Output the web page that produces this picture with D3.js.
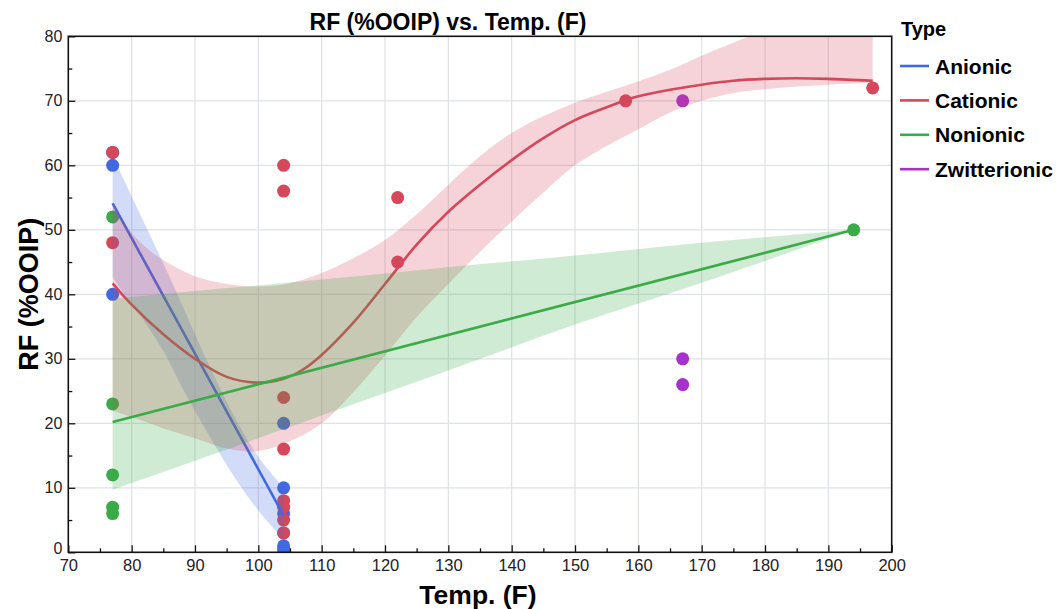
<!DOCTYPE html>
<html>
<head>
<meta charset="utf-8">
<script src="https://cdn.jsdelivr.net/npm/d3@7"></script>
<style>
    body { margin: 0; background: #fff; }
    svg { font-family: "Liberation Sans", Arial, Helvetica, sans-serif; }
    .tick text { fill: #222; }
    .legend-label { font-weight: bold; font-size: 21px; }
</style>
</head>
<body>
<svg id="chart" width="1056" height="609"></svg>
<script>
// series, in draw order
const seriesNames = ["Anionic", "Cationic", "Nonionic", "Zwitterionic"]
const seriesColors = ["#4169e1", "#d5475a", "#3aab47", "#a631cc"]

// measured points
const anionicTemp = [77, 77, 77, 104, 104, 104, 104, 104, 104, 104]
const anionicRF = [62, 60, 40, 20, 10, 6, 3, 1, 0.5, 0]
const cationicTemp = [77, 77, 104, 104, 104, 104, 104, 104, 104, 104, 122, 122, 158, 197]
const cationicRF = [62, 48, 60, 56, 24, 16, 8, 7, 5, 3, 55, 45, 70, 72]
const nonionicTemp = [77, 77, 77, 77, 77, 194]
const nonionicRF = [52, 23, 12, 7, 6, 50]
const zwitterionicTemp = [167, 167, 167]
const zwitterionicRF = [70, 30, 26]

// fitted trend lines
const anionicFitTemp = [77, 104]
const anionicFitRF = [54.1, 5.7]
const cationicFitTemp = [77, 80, 85, 90, 95, 100, 104, 107, 110, 115, 120, 125, 130, 135, 140, 145, 150, 155, 158, 160, 165, 170, 175, 180, 185, 190, 197]
const cationicFitRF = [41.7, 38.4, 33.8, 30.0, 27.2, 26.3, 26.9, 28.3, 30.6, 35.6, 41.6, 47.7, 52.8, 57.0, 60.8, 64.2, 67.0, 69.0, 70.1, 70.7, 71.7, 72.5, 73.1, 73.4, 73.5, 73.4, 73.1]
const nonionicFitTemp = [77, 194]
const nonionicFitRF = [20.2, 50]

// confidence bands
const anionicBandTemp = [77, 79, 82, 85, 88, 92, 96, 100, 104]
const anionicBandLow = [42.7, 39.8, 35.8, 31.2, 25.5, 18.5, 12.0, 6.5, 2.0]
const anionicBandHigh = [61.5, 57.3, 51.0, 44.8, 38.3, 29.5, 21.5, 14.8, 10.0]
const cationicBandTemp = [77, 79, 82, 85, 90, 95, 100, 105, 110, 115, 120, 125, 130, 135, 140, 145, 150, 155, 160, 165, 170, 175, 180, 185, 190, 197]
const cationicBandLow = [22.0, 21.3, 20.3, 19.2, 17.7, 16.1, 15.7, 17.2, 20.0, 24.8, 30.5, 36.5, 41.6, 46.6, 51.3, 55.8, 60.0, 63.0, 65.6, 68.2, 70.0, 71.2, 71.8, 72.2, 72.5, 72.8]
const cationicBandHigh = [54.3, 50.8, 47.5, 45.3, 42.8, 41.6, 41.2, 41.7, 43.3, 45.6, 48.4, 52.4, 57.0, 61.4, 65.0, 67.6, 69.7, 71.4, 73.0, 74.8, 77.0, 79.0, 80.9, 82.7, 84.5, 87.0]
const nonionicBandTemp = [77, 90, 110, 130, 150, 170, 194]
const nonionicBandLow = [9.7, 14.2, 21.2, 28.2, 35.3, 41.8, 50]
const nonionicBandHigh = [39.3, 40.5, 42.3, 44.2, 46.0, 48.0, 50]

// axes
const xMajorTicks = [70, 80, 90, 100, 110, 120, 130, 140, 150, 160, 170, 180, 190, 200]
const xMinorTicks = [75, 85, 95, 105, 115, 125, 135, 145, 155, 165, 175, 185, 195]
const yMajorTicks = [0, 10, 20, 30, 40, 50, 60, 70, 80]
const yMinorTicks = [5, 15, 25, 35, 45, 55, 65, 75]

const points = [
    [anionicTemp, anionicRF],
    [cationicTemp, cationicRF],
    [nonionicTemp, nonionicRF],
    [zwitterionicTemp, zwitterionicRF]
]
const fits = [
    [anionicFitTemp, anionicFitRF],
    [cationicFitTemp, cationicFitRF],
    [nonionicFitTemp, nonionicFitRF]
]
const bands = [
    [anionicBandTemp, anionicBandLow, anionicBandHigh],
    [cationicBandTemp, cationicBandLow, cationicBandHigh],
    [nonionicBandTemp, nonionicBandLow, nonionicBandHigh]
]

function render_chart()
{
    let svg = d3.select("#chart")
    let plot = {left: 68.3, right: 891.7, top: 36.3, bottom: 552.3}

    let x = d3.scaleLinear().domain([70, 200]).range([plot.left, plot.right])
    let y = d3.scaleLinear().domain([0, 80]).range([plot.bottom, plot.top])
    const smooth = d3.curveCatmullRom.alpha(0.5)

    svg.append("defs").append("clipPath")
        .attr("id", "plot-clip")
        .append("rect")
            .attr("x", plot.left)
            .attr("y", plot.top)
            .attr("width", plot.right - plot.left)
            .attr("height", plot.bottom - plot.top)

    // grid
    let grid = svg.append("g").attr("stroke", "#dfe2e6").attr("stroke-width", 1.2)
    grid.selectAll(".vgrid")
        .data(xMajorTicks.slice(1, -1))
        .enter()
        .append("line")
            .attr("x1", d => x(d)).attr("x2", d => x(d))
            .attr("y1", plot.top).attr("y2", plot.bottom)
    grid.selectAll(".hgrid")
        .data(yMajorTicks.slice(1, -1))
        .enter()
        .append("line")
            .attr("x1", plot.left).attr("x2", plot.right)
            .attr("y1", d => y(d)).attr("y2", d => y(d))

    let body = svg.append("g").attr("clip-path", "url(#plot-clip)")

    // all points first, then each series' band and trend line on top
    points.forEach(function (p, i) {
        let temps = p[0], rfs = p[1]
        body.append("g")
            .selectAll("circle")
            .data(d3.range(temps.length))
            .enter()
            .append("circle")
                .attr("cx", j => x(temps[j]))
                .attr("cy", j => y(rfs[j]))
                .attr("r", 6.5)
                .attr("fill", seriesColors[i])
    })

    bands.forEach(function (b, i) {
        let temps = b[0], lo = b[1], hi = b[2]
        let area = d3.area()
            .x(j => x(temps[j]))
            .y0(j => y(lo[j]))
            .y1(j => y(hi[j]))
            .curve(smooth)
        body.append("path")
            .attr("d", area(d3.range(temps.length)))
            .attr("fill", seriesColors[i])
            .attr("fill-opacity", 0.24)

        let ft = fits[i][0], fr = fits[i][1]
        let line = d3.line()
            .x(j => x(ft[j]))
            .y(j => y(fr[j]))
            .curve(smooth)
        body.append("path")
            .attr("d", line(d3.range(ft.length)))
            .attr("fill", "none")
            .attr("stroke", seriesColors[i])
            .attr("stroke-width", 2.6)
    })

    // axes, ticks point into the plot
    let xAxis = svg.append("g")
        .attr("transform", `translate(0,${plot.bottom})`)
        .call(d3.axisBottom(x).tickValues(xMajorTicks).tickSize(-7).tickPadding(7).tickFormat(d3.format("d")))
    xAxis.selectAll("text").style("font-size", "16.5px")
    svg.append("g")
        .attr("transform", `translate(0,${plot.bottom})`)
        .call(d3.axisBottom(x).tickValues(xMinorTicks).tickSize(-4).tickFormat(""))

    let yAxis = svg.append("g")
        .attr("transform", `translate(${plot.left},0)`)
        .call(d3.axisLeft(y).tickValues(yMajorTicks).tickSize(-7).tickPadding(6).tickFormat(d3.format("d")))
    yAxis.selectAll("text").style("font-size", "16px")
    // the zero label sits a touch higher so it clears the "70" below it
    yAxis.selectAll(".tick").filter(d => d === 0).select("text").attr("dy", "0.1em")
    svg.append("g")
        .attr("transform", `translate(${plot.left},0)`)
        .call(d3.axisLeft(y).tickValues(yMinorTicks).tickSize(-4).tickFormat(""))

    svg.selectAll(".domain").remove()
    svg.selectAll(".tick line").attr("stroke", "#111").attr("stroke-width", 1.3)

    svg.append("rect")
        .attr("x", plot.left)
        .attr("y", plot.top)
        .attr("width", plot.right - plot.left)
        .attr("height", plot.bottom - plot.top)
        .attr("fill", "none")
        .attr("stroke", "#111")
        .attr("stroke-width", 1.6)

    // titles
    svg.append("text")
        .attr("x", 448)
        .attr("y", 30)
        .attr("text-anchor", "middle")
        .style("font-size", "23px")
        .style("font-weight", "bold")
        .text("RF (%OOIP) vs. Temp. (F)")

    svg.append("text")
        .attr("x", 478)
        .attr("y", 604)
        .attr("text-anchor", "middle")
        .style("font-size", "26.5px")
        .style("font-weight", "bold")
        .text("Temp. (F)")

    svg.append("text")
        .attr("transform", `translate(38,${(plot.top + plot.bottom) / 2}) rotate(-90)`)
        .attr("text-anchor", "middle")
        .style("font-size", "27px")
        .style("font-weight", "bold")
        .text("RF (%OOIP)")

    // legend
    let legend = svg.append("g").attr("transform", "translate(900,0)")
    legend.append("text")
        .attr("x", 1)
        .attr("y", 36)
        .style("font-size", "20px")
        .style("font-weight", "bold")
        .text("Type")
    let items = legend.selectAll(".item")
        .data(seriesNames)
        .enter()
        .append("g")
            .attr("transform", (d, i) => `translate(0,${66 + i * 34.4})`)
    items.append("line")
        .attr("x1", 0).attr("x2", 29)
        .attr("stroke", (d, i) => seriesColors[i])
        .attr("stroke-width", 2.6)
    items.append("text")
        .attr("class", "legend-label")
        .attr("x", 35)
        .attr("y", 7.5)
        .text(d => d)
}

render_chart()
</script>
</body>
</html>
